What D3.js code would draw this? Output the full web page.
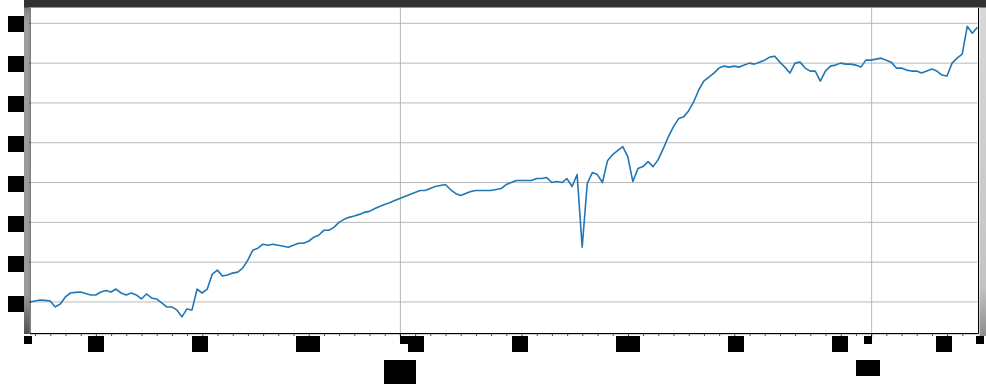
<!DOCTYPE html>
<html>
<head>
<meta charset="utf-8">
<script src="https://cdn.jsdelivr.net/npm/d3@7"></script>
<style>
  html, body { margin: 0; padding: 0; background: #fff; }
  svg { display: block; font-family: "DejaVu Sans", sans-serif; }
</style>
</head>
<body>
<div id="chart"></div>
<script>
// one reading every 8 hours, first at 2021-07-07 15:00 UTC
const startTime = Date.UTC(2021, 6, 7, 15)
const stepHours = 8
const values = [
  20.0, 20.25, 20.5, 20.4, 20.25, 18.75, 19.5, 21.25, 22.25, 22.4,
  22.5, 22.1, 21.75, 21.75, 22.5, 22.9, 22.5, 23.25, 22.25, 21.75,
  22.25, 21.75, 20.75, 22.0, 21.0, 20.75, 19.75, 18.75, 18.75, 18.0,
  16.25, 18.25, 18.0, 23.25, 22.25, 23.25, 27.0, 28.0, 26.5, 26.75,
  27.25, 27.5, 28.5, 30.5, 33.0, 33.5, 34.5, 34.25, 34.5, 34.25,
  34.0, 33.75, 34.25, 34.75, 34.75, 35.25, 36.25, 36.75, 38.0, 38.0,
  38.75, 40.0, 40.75, 41.25, 41.6, 42.0, 42.5, 42.75, 43.4, 44.0,
  44.5, 44.9, 45.5, 46.0, 46.5, 47.0, 47.5, 48.0, 48.0, 48.5,
  49.0, 49.25, 49.5, 48.25, 47.25, 46.75, 47.25, 47.75, 48.0, 48.0,
  48.0, 48.0, 48.25, 48.5, 49.5, 50.0, 50.5, 50.5, 50.5, 50.5,
  51.0, 51.0, 51.25, 50.0, 50.25, 50.0, 51.0, 49.0, 52.0, 33.75,
  49.75, 52.5, 52.0, 50.0, 55.5, 57.0, 58.0, 59.0, 56.5, 50.25,
  53.5, 54.0, 55.25, 54.0, 55.75, 58.5, 61.5, 64.0, 66.0, 66.5,
  68.0, 70.25, 73.25, 75.5, 76.5, 77.5, 78.75, 79.25, 79.0, 79.25,
  79.0, 79.5, 80.0, 79.75, 80.25, 80.75, 81.5, 81.75, 80.25, 79.0,
  77.5, 80.0, 80.25, 78.75, 78.0, 78.0, 75.5, 78.0, 79.25, 79.5,
  80.0, 79.75, 79.75, 79.5, 79.0, 80.75, 80.75, 81.0, 81.25, 80.75,
  80.25, 78.75, 78.75, 78.25, 78.0, 78.0, 77.5, 78.0, 78.5, 78.0,
  77.0, 76.75, 80.0, 81.25, 82.25, 89.25, 87.5, 89.0
]

const yTicks = [20, 30, 40, 50, 60, 70, 80, 90]
const yDomain = [12.2, 93.85]

const width = 986
const height = 392
const plot = {left: 29.9, right: 977.4, top: 8, bottom: 333}

const times = values.map((v, i) => new Date(startTime + i * stepHours * 3600e3))
const data = times.map((t, i) => ({t: t, v: values[i]}))

const x = d3.scaleUtc()
  .domain(d3.extent(times))
  .range([plot.left, plot.right])

const y = d3.scaleLinear()
  .domain(yDomain)
  .range([plot.bottom, plot.top])

const svg = d3.select("#chart")
  .append("svg")
  .attr("width", width)
  .attr("height", height)

const defs = svg.append("defs")

defs.append("clipPath").attr("id", "plot-clip")
  .append("rect")
  .attr("x", plot.left).attr("y", plot.top)
  .attr("width", plot.right - plot.left + 1).attr("height", plot.bottom - plot.top)

const leftGrad = defs.append("linearGradient").attr("id", "left-strip")
  .attr("x1", 0).attr("y1", 0).attr("x2", 0).attr("y2", 1)
leftGrad.append("stop").attr("offset", "0%").attr("stop-color", "#7d7d7d")
leftGrad.append("stop").attr("offset", "4%").attr("stop-color", "#9c9c9c")
leftGrad.append("stop").attr("offset", "88%").attr("stop-color", "#999")
leftGrad.append("stop").attr("offset", "100%").attr("stop-color", "#505050")

const rightGrad = defs.append("linearGradient").attr("id", "right-strip")
  .attr("x1", 0).attr("y1", 0).attr("x2", 0).attr("y2", 1)
rightGrad.append("stop").attr("offset", "0%").attr("stop-color", "#d8d8d8")
rightGrad.append("stop").attr("offset", "85%").attr("stop-color", "#c4c4c4")
rightGrad.append("stop").attr("offset", "100%").attr("stop-color", "#8e8e8e")

// grid
const months = d3.utcMonth.range(x.domain()[0], x.domain()[1])
const mondays = d3.utcMonday.range(x.domain()[0], x.domain()[1])
const days = d3.utcDay.range(x.domain()[0], x.domain()[1])

svg.append("g")
  .selectAll("line")
  .data(yTicks)
  .join("line")
  .attr("x1", plot.left).attr("x2", plot.right)
  .attr("y1", d => y(d)).attr("y2", d => y(d))
  .attr("stroke", "#b0b0b0")
  .attr("stroke-width", 0.9)

svg.append("g")
  .selectAll("line")
  .data(months)
  .join("line")
  .attr("x1", d => x(d)).attr("x2", d => x(d))
  .attr("y1", plot.top).attr("y2", plot.bottom)
  .attr("stroke", "#b0b0b0")
  .attr("stroke-width", 0.9)

// the series
const line = d3.line()
  .x(d => x(d.t))
  .y(d => y(d.v))

svg.append("path")
  .datum(data)
  .attr("clip-path", "url(#plot-clip)")
  .attr("d", line)
  .attr("fill", "none")
  .attr("stroke", "#1f77b4")
  .attr("stroke-width", 1.6)
  .attr("stroke-linejoin", "round")

// spines
svg.append("line")
  .attr("x1", 30).attr("x2", 30).attr("y1", plot.top).attr("y2", plot.bottom + 0.5)
  .attr("stroke", "#000")
svg.append("line")
  .attr("x1", 978.5).attr("x2", 978.5).attr("y1", plot.top).attr("y2", plot.bottom + 0.5)
  .attr("stroke", "#000")
svg.append("line")
  .attr("x1", 30).attr("x2", 978.5).attr("y1", 333.5).attr("y2", 333.5)
  .attr("stroke", "#000")
svg.append("line")
  .attr("x1", 30).attr("x2", 978.5).attr("y1", 334.5).attr("y2", 334.5)
  .attr("stroke", "#d0d0d0")

// ticks
svg.append("g")
  .selectAll("line")
  .data(days)
  .join("line")
  .attr("x1", d => x(d)).attr("x2", d => x(d))
  .attr("y1", 333).attr("y2", 336)
  .attr("stroke", "#222")
  .attr("stroke-width", 0.8)

svg.append("g")
  .selectAll("line")
  .data(months)
  .join("line")
  .attr("x1", d => x(d)).attr("x2", d => x(d))
  .attr("y1", 333).attr("y2", 337.5)
  .attr("stroke", "#000")
  .attr("stroke-width", 0.8)

svg.append("g")
  .selectAll("line")
  .data(yTicks)
  .join("line")
  .attr("x1", 26.5).attr("x2", 30)
  .attr("y1", d => y(d)).attr("y2", d => y(d))
  .attr("stroke", "#000")
  .attr("stroke-width", 0.8)

// labels are blacked out in 8px blocks, as in the source picture
function snapBox(x0, x1, y0, y1) {
  const g = 8
  const bx = g * Math.floor((x0 + 1) / g)
  const by = g * Math.floor((y0 + 1) / g)
  return {
    x: bx, y: by,
    w: g * Math.ceil((x1 - 3) / g) - bx,
    h: g * Math.ceil((y1 - 3) / g) - by
  }
}

const labels = svg.append("g").attr("class", "labels")

function redactedLabel(lines, cx, anchor, ink) {
  const b = snapBox(ink[0], ink[1], ink[2], ink[3])
  const id = "clip-" + Math.round(b.x) + "-" + Math.round(b.y)
  defs.append("clipPath").attr("id", id)
    .append("rect").attr("x", b.x).attr("y", b.y).attr("width", b.w).attr("height", b.h)
  const g = labels.append("g")
  g.append("rect")
    .attr("x", b.x).attr("y", b.y).attr("width", b.w).attr("height", b.h)
    .attr("fill", "#000")
  g.append("g").attr("clip-path", "url(#" + id + ")")
    .selectAll("text")
    .data(lines)
    .join("text")
    .attr("x", cx)
    .attr("y", d => d.y)
    .attr("text-anchor", anchor)
    .attr("font-size", 14)
    .attr("fill", "#000")
    .text(d => d.text)
}

const fmtY = d3.format("d")
yTicks.forEach(v => {
  const cy = y(v)
  redactedLabel([{text: fmtY(v), y: cy + 5}], 23, "end", [8.5, 23, cy - 6, cy + 6])
})

const fmtDay = d3.utcFormat("%d")
mondays.forEach(d => {
  const cx = x(d)
  redactedLabel([{text: fmtDay(d), y: 350}], cx, "middle", [cx - 7, cx + 7, 340, 350])
})

const fmtMonth = d3.utcFormat("%b")
const fmtYear = d3.utcFormat("%Y")
months.forEach((d, i) => {
  const cx = x(d)
  const lines = [{text: fmtMonth(d), y: 372}]
  if (i === 0) lines.push({text: fmtYear(d), y: 388})
  const bottom = i === 0 ? 386 : 375
  redactedLabel(lines, cx, "middle", [cx - 11, cx + 11, 362, bottom])
})

// major tick ends caught by the blocks as well
const tickEnds = [x.domain()[0]].concat(months, [x.domain()[1]])
labels.append("g")
  .selectAll("rect")
  .data(tickEnds)
  .join("rect")
  .attr("x", d => 8 * Math.floor((x(d) - (d === tickEnds[0] ? 1 : 0)) / 8))
  .attr("y", 336)
  .attr("width", 8).attr("height", 8)
  .attr("fill", "#000")

// window frame around the figure
svg.append("rect")
  .attr("x", 24).attr("y", 7).attr("width", 5.5).attr("height", 327)
  .attr("fill", "url(#left-strip)")
svg.append("rect")
  .attr("x", 979.5).attr("y", 0).attr("width", 6.5).attr("height", 336)
  .attr("fill", "url(#right-strip)")
svg.append("rect")
  .attr("x", 24).attr("y", 0).attr("width", width - 24).attr("height", 7.5)
  .attr("fill", "#323232")
</script>
</body>
</html>
